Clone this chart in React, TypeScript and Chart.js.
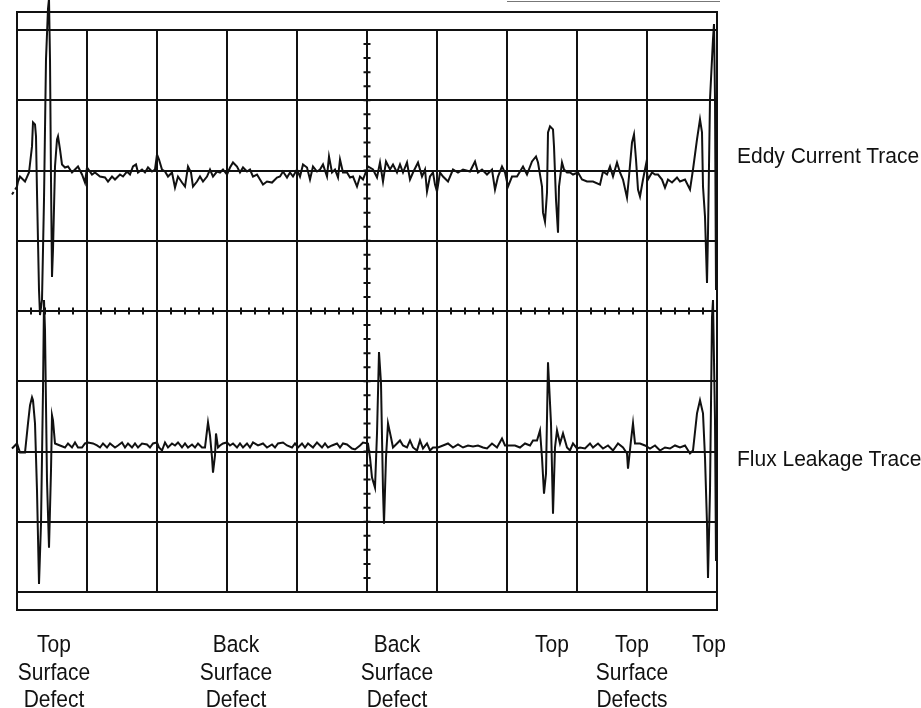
import React, { useEffect, useRef } from "react";
import { Chart, registerables } from "chart.js";

Chart.register(...registerables);

// Time axis: 0..700 (10 divisions of 70); amplitude axis: -280..280 (8 divisions of 70)
const timeDivisions = [0, 70, 140, 210, 280, 350, 420, 490, 560, 630, 700];

const eddyCurrentTrace: [number, number][] = [
  [-10, 104], [-5, 116], [0, 124], [1, 129], [3, 134], [8, 129], [12, 138], [15, 164], [16, 188], [18, 186],
  [19, 174], [20, 118], [22, 21], [23, -4], [25, 11], [27, 111], [29, 251], [31, 301], [32, 311], [33, 251],
  [34, 131], [35, 34], [36, 61], [38, 144], [40, 171], [41, 174], [43, 161], [45, 146], [48, 143], [51, 144],
  [55, 138], [58, 141], [61, 144], [65, 136], [68, 128], [70, 143], [75, 136], [78, 138], [83, 134], [88, 133],
  [91, 129], [95, 134], [98, 131], [103, 136], [106, 134], [110, 139], [113, 136], [116, 144], [119, 146], [121, 138],
  [125, 141], [128, 138], [131, 143], [135, 139], [138, 141], [140, 156], [142, 151], [145, 141], [148, 139], [151, 134],
  [155, 138], [158, 123], [161, 134], [165, 128], [168, 124], [171, 144], [174, 138], [176, 124], [180, 129], [183, 134],
  [186, 129], [190, 134], [193, 141], [196, 134], [200, 139], [203, 138], [206, 141], [210, 136], [213, 143], [216, 148],
  [220, 144], [223, 138], [226, 143], [230, 139], [233, 141], [236, 134], [240, 136], [243, 131], [246, 126], [250, 129],
  [255, 128], [260, 133], [263, 134], [266, 139], [270, 133], [273, 138], [276, 134], [280, 141], [283, 134], [286, 146],
  [290, 143], [293, 131], [296, 144], [300, 139], [303, 141], [306, 146], [310, 134], [312, 154], [315, 138], [318, 141],
  [321, 133], [323, 151], [326, 138], [330, 138], [333, 133], [336, 134], [340, 124], [343, 134], [346, 131], [351, 144],
  [356, 141], [360, 133], [363, 148], [366, 129], [369, 149], [373, 141], [376, 146], [380, 138], [383, 146], [386, 138],
  [390, 148], [393, 131], [396, 138], [401, 148], [405, 134], [408, 141], [410, 119], [413, 134], [416, 138], [418, 126],
  [420, 119], [423, 138], [426, 134], [431, 129], [436, 141], [441, 138], [446, 141], [453, 139], [458, 149], [461, 138],
  [465, 141], [470, 136], [475, 141], [478, 121], [481, 134], [485, 144], [488, 138], [491, 124], [495, 134], [500, 134],
  [506, 144], [510, 136], [515, 149], [519, 154], [521, 148], [525, 124], [526, 98], [528, 89], [530, 118], [531, 178],
  [533, 184], [536, 181], [537, 164], [539, 111], [541, 78], [542, 124], [545, 148], [547, 141], [550, 138], [553, 138],
  [556, 136], [561, 138], [565, 131], [570, 129], [576, 129], [583, 126], [586, 139], [590, 136], [593, 144], [596, 134],
  [600, 148], [603, 138], [606, 131], [610, 113], [612, 134], [615, 168], [617, 176], [619, 151], [621, 121], [623, 114],
  [626, 131], [629, 146], [631, 131], [635, 138], [638, 136], [641, 136], [645, 131], [648, 123], [651, 131], [655, 128],
  [660, 133], [663, 129], [668, 131], [673, 121], [676, 141], [680, 171], [683, 191], [685, 178], [686, 124], [688, 94],
  [690, 28], [691, 78], [693, 211], [696, 271], [697, 286], [698, 211], [699, 21],
];

const fluxLeakageTrace: [number, number][] = [
  [-5, -137], [0, -132], [3, -141], [8, -141], [11, -112], [13, -94], [15, -86], [16, -89], [18, -112], [20, -179],
  [22, -272], [24, -212], [26, -79], [27, 11], [28, -19], [30, -169], [32, -236], [34, -159], [35, -104], [36, -109],
  [38, -132], [43, -134], [48, -136], [51, -132], [55, -136], [58, -131], [61, -136], [65, -136], [68, -132], [71, -131],
  [76, -132], [80, -134], [83, -136], [86, -132], [90, -136], [93, -132], [98, -136], [101, -134], [105, -131], [108, -136],
  [111, -132], [115, -136], [118, -132], [121, -136], [125, -132], [130, -133], [133, -136], [136, -132], [140, -131], [142, -136],
  [145, -139], [148, -131], [151, -136], [155, -132], [158, -134], [161, -131], [165, -136], [168, -132], [171, -136], [175, -133],
  [178, -136], [181, -132], [185, -136], [188, -136], [191, -111], [193, -124], [195, -146], [196, -161], [198, -144], [199, -122],
  [201, -136], [203, -134], [206, -132], [210, -131], [213, -134], [216, -132], [220, -136], [223, -132], [226, -136], [230, -132],
  [233, -136], [236, -131], [241, -134], [246, -132], [250, -136], [255, -133], [258, -136], [261, -132], [266, -131], [270, -134],
  [275, -136], [278, -132], [281, -136], [285, -132], [288, -136], [291, -132], [296, -136], [300, -131], [305, -136], [308, -132],
  [311, -136], [315, -134], [320, -132], [323, -136], [326, -132], [330, -133], [335, -137], [338, -138], [343, -134], [346, -131],
  [351, -132], [353, -146], [355, -166], [358, -176], [360, -122], [362, -41], [364, -72], [366, -179], [367, -212], [369, -146],
  [371, -112], [374, -126], [376, -136], [380, -132], [383, -129], [386, -134], [390, -136], [393, -129], [396, -136], [400, -139],
  [403, -129], [406, -137], [410, -132], [413, -139], [416, -136], [421, -136], [426, -134], [431, -132], [436, -136], [441, -133],
  [446, -136], [451, -134], [456, -135], [461, -134], [466, -136], [470, -137], [475, -132], [480, -136], [485, -127], [488, -134],
  [493, -134], [498, -134], [503, -136], [508, -132], [513, -134], [516, -129], [520, -129], [523, -119], [525, -146], [527, -182],
  [529, -162], [531, -51], [534, -112], [536, -202], [538, -136], [540, -119], [543, -132], [546, -122], [550, -136], [553, -139],
  [556, -132], [560, -137], [563, -136], [568, -137], [573, -132], [576, -136], [581, -132], [586, -137], [591, -134], [596, -139],
  [601, -132], [606, -136], [610, -142], [611, -157], [614, -129], [616, -112], [618, -132], [623, -132], [628, -134], [633, -137],
  [638, -134], [643, -139], [648, -136], [653, -137], [658, -134], [663, -136], [668, -134], [673, -142], [676, -139], [680, -102],
  [683, -89], [686, -102], [688, -146], [690, -212], [691, -266], [693, -179], [695, -6], [696, 11], [698, -109], [699, -249],
];

const traceNames = ["Eddy Current Trace", "Flux Leakage Trace"];

const defectLabels: string[][] = [
  ["Top", "Surface", "Defect"],
  ["Back", "Surface", "Defect"],
  ["Back", "Surface", "Defect"],
  ["Top"],
  ["Top", "Surface", "Defects"],
  ["Top"],
];
const defectTimes = [37, 219, 380, 535, 615, 692];

// ---- layout (pixels) ----
const W = 921;
const H = 708;
const PLOT_LEFT = 17;
const PLOT_RIGHT = 717;
const PLOT_TOP = 30;
const PLOT_BOTTOM = 592;
const BAR = 18;
const INK = "#111";
const TRACE_LABEL_TOPS = [144, 447];

const timeToPx = (t: number) => PLOT_LEFT + (t / 700) * (PLOT_RIGHT - PLOT_LEFT);

const framePlugin = {
  id: "scopeFrame",
  beforeDatasetsDraw(chart: any) {
    const { ctx, chartArea, scales } = chart;
    const { left, right, top, bottom } = chartArea;
    const xs = scales.x;
    const ys = scales.y;
    ctx.save();
    ctx.strokeStyle = INK;
    ctx.lineWidth = 2;
    ctx.strokeRect(left, top - BAR, right - left, BAR);
    ctx.strokeRect(left, bottom, right - left, BAR);
    const cy = ys.getPixelForValue(0);
    const cx = xs.getPixelForValue(350);
    ctx.beginPath();
    for (let v = 0; v <= 700; v += 14) {
      const px = xs.getPixelForValue(v);
      ctx.moveTo(px, cy - 3.5);
      ctx.lineTo(px, cy + 3.5);
    }
    for (let v = -280; v <= 280; v += 14) {
      const py = ys.getPixelForValue(v);
      ctx.moveTo(cx - 3.5, py);
      ctx.lineTo(cx + 3.5, py);
    }
    ctx.stroke();
    // faint scan edge at the very top right
    ctx.strokeStyle = "#777";
    ctx.lineWidth = 1;
    ctx.beginPath();
    ctx.moveTo(xs.getPixelForValue(490), 1.5);
    ctx.lineTo(right + 3, 1.5);
    ctx.stroke();
    ctx.restore();
  },
};

export default function App() {
  const canvasRef = useRef<HTMLCanvasElement | null>(null);

  useEffect(() => {
    const canvas = canvasRef.current;
    if (!canvas) return;
    const toPts = (arr: [number, number][]) => arr.map(([x, y]) => ({ x, y }));
    const chart = new Chart(canvas, {
      type: "line",
      data: {
        datasets: [
          {
            label: traceNames[0],
            data: toPts(eddyCurrentTrace),
            borderColor: INK,
            borderWidth: 2,
            pointRadius: 0,
            tension: 0,
            clip: false,
            segment: {
              borderDash: (c: any) => (c.p0DataIndex < 2 ? [3, 3] : undefined),
            },
          } as any,
          {
            label: traceNames[1],
            data: toPts(fluxLeakageTrace),
            borderColor: INK,
            borderWidth: 2,
            pointRadius: 0,
            tension: 0,
            clip: false,
          } as any,
        ],
      },
      options: {
        responsive: false,
        animation: false,
        devicePixelRatio: 1,
        layout: {
          padding: {
            left: PLOT_LEFT,
            right: W - PLOT_RIGHT,
            top: PLOT_TOP,
            bottom: H - PLOT_BOTTOM,
          },
        },
        plugins: { legend: { display: false }, tooltip: { enabled: false } },
        scales: {
          x: {
            type: "linear",
            min: timeDivisions[0],
            max: timeDivisions[timeDivisions.length - 1],
            afterBuildTicks: (s: any) => {
              s.ticks = timeDivisions.map((v) => ({ value: v }));
            },
            ticks: { display: false },
            grid: { color: INK, lineWidth: 2, drawTicks: false },
            border: { display: true, color: INK, width: 2 },
          },
          y: {
            type: "linear",
            min: -280,
            max: 280,
            ticks: { display: false, stepSize: 70 },
            grid: { color: INK, lineWidth: 2, drawTicks: false },
            border: { display: true, color: INK, width: 2 },
          },
        },
      },
      plugins: [framePlugin],
    });
    return () => chart.destroy();
  }, []);

  const font = '"Liberation Sans", Arial, Helvetica, sans-serif';

  return (
    <div style={{ position: "absolute", left: 0, top: 0, width: W, height: H, background: "#fff", overflow: "hidden" }}>
      <canvas ref={canvasRef} width={W} height={H} style={{ display: "block", width: W, height: H }} />
      {traceNames.map((name, i) => (
        <div
          key={name}
          style={{
            position: "absolute",
            left: PLOT_RIGHT + 20,
            top: TRACE_LABEL_TOPS[i],
            fontFamily: font,
            fontSize: 21,
            lineHeight: "21px",
            color: INK,
            whiteSpace: "nowrap",
            transform: "scaleY(1.08)",
            transformOrigin: "left top",
          }}
        >
          {name}
        </div>
      ))}
      {defectLabels.map((lines, i) => (
        <div
          key={i}
          style={{
            position: "absolute",
            left: timeToPx(defectTimes[i]) - 60,
            width: 120,
            top: PLOT_BOTTOM + BAR + 20,
            fontFamily: font,
            fontSize: 21,
            lineHeight: "25px",
            color: INK,
            textAlign: "center",
            transform: "scaleY(1.1)",
            transformOrigin: "center top",
          }}
        >
          {lines.map((l, j) => (
            <div key={j}>{l}</div>
          ))}
        </div>
      ))}
    </div>
  );
}
